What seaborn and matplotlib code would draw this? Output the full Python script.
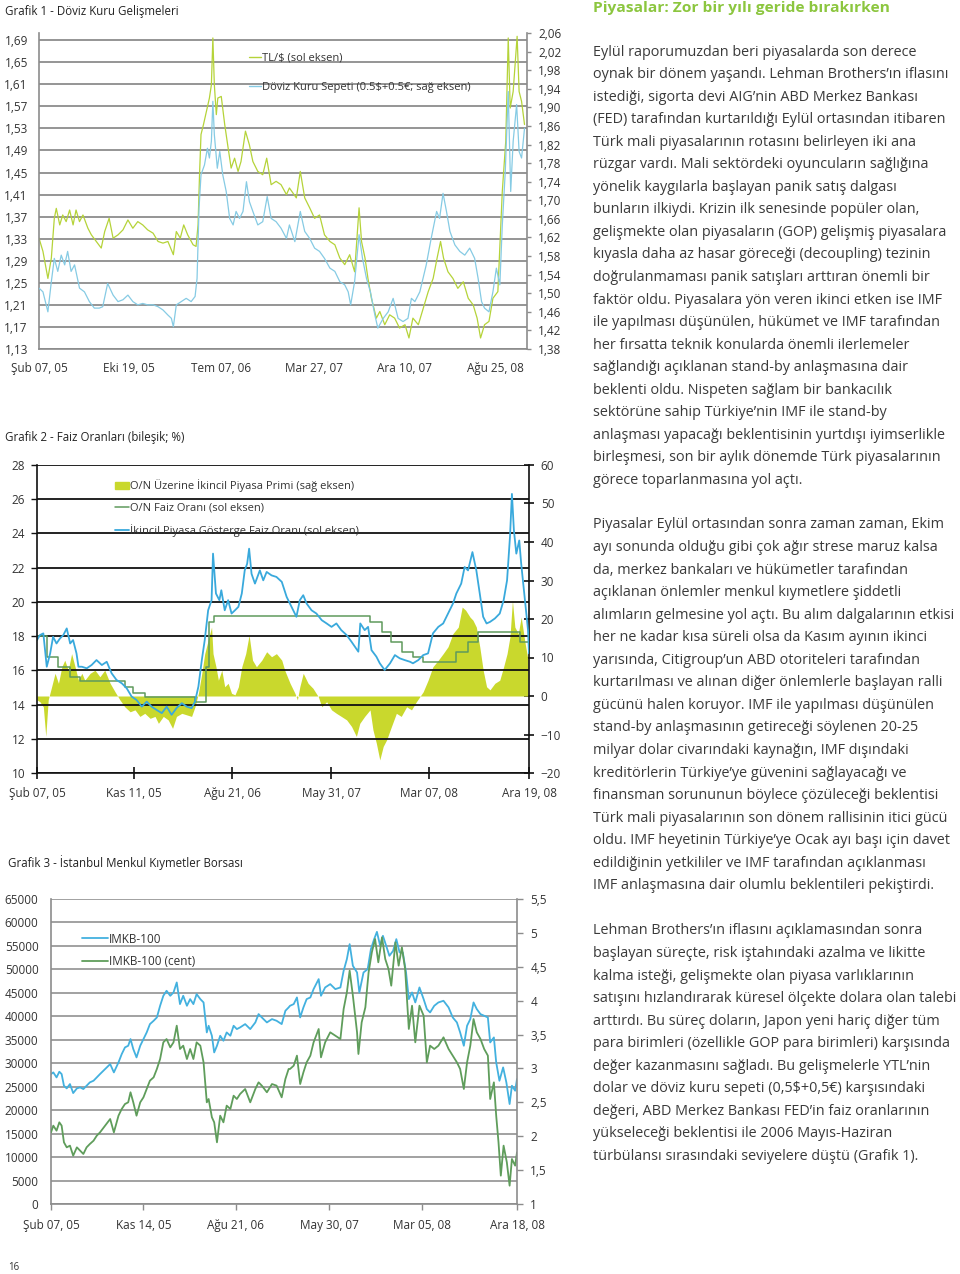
import numpy as np
import pandas as pd
import matplotlib
matplotlib.use("Agg")
import matplotlib.pyplot as plt
import seaborn as sns
from matplotlib.lines import Line2D
from matplotlib.patches import Patch

START = "2005-02-07"

# ---------------- Grafik 1 - Döviz kuru (x: işgünü, Şub 07, 05 = 0) ----------------
tl_days = [0, 8, 18, 25, 31, 35, 42, 48, 55, 62, 69, 75, 82, 89, 99, 106, 116, 126, 133, 142,
           150, 160, 170, 180, 190, 200, 210, 220, 231, 241, 251, 261, 272, 278, 286, 293, 301, 312, 318, 322,
           325, 328, 333, 339, 345, 349, 352, 355, 359, 362, 369, 376, 382, 389, 396, 403, 409, 418, 426, 433,
           443, 453, 461, 470, 480, 490, 501, 507, 521, 529, 538, 548, 558, 568, 578, 589, 599, 609, 619, 629,
           639, 648, 653, 660, 666, 673, 683, 690, 700, 710, 720, 730, 741, 749, 757, 768, 778, 788, 798, 806,
           813, 819, 828, 838, 848, 859, 869, 879, 887, 894, 902, 911, 919, 929, 938, 945, 950, 954, 960, 968,
           972, 977, 983]
tl_values = [1.331, 1.307, 1.258, 1.295, 1.367, 1.385, 1.355, 1.373, 1.361, 1.382, 1.355, 1.382, 1.361, 1.373,
             1.349, 1.337, 1.325, 1.313, 1.343, 1.367, 1.331, 1.337, 1.346, 1.364, 1.349, 1.361, 1.355, 1.346,
             1.340, 1.325, 1.322, 1.325, 1.301, 1.343, 1.331, 1.355, 1.337, 1.319, 1.316, 1.355, 1.446, 1.519,
             1.537, 1.561, 1.585, 1.609, 1.694, 1.609, 1.555, 1.585, 1.588, 1.537, 1.500, 1.458, 1.476, 1.452,
             1.470, 1.525, 1.500, 1.470, 1.452, 1.446, 1.476, 1.428, 1.434, 1.428, 1.410, 1.422, 1.404, 1.452,
             1.404, 1.386, 1.367, 1.373, 1.337, 1.325, 1.319, 1.295, 1.283, 1.301, 1.270, 1.386, 1.325, 1.295,
             1.258, 1.222, 1.186, 1.198, 1.174, 1.192, 1.186, 1.168, 1.174, 1.150, 1.186, 1.174, 1.204, 1.234,
             1.258, 1.295, 1.325, 1.295, 1.270, 1.258, 1.240, 1.252, 1.222, 1.210, 1.186, 1.150, 1.174, 1.180,
             1.222, 1.234, 1.416, 1.507, 1.694, 1.567, 1.597, 1.697, 1.597, 1.579, 1.537]

sepet_days = [0, 8, 18, 25, 31, 38, 45, 52, 58, 65, 72, 82, 92, 102, 112, 122, 129, 139, 150, 160,
              170, 180, 190, 200, 210, 220, 231, 241, 251, 261, 268, 272, 278, 288, 298, 308, 316, 320, 324, 328,
              335, 341, 345, 349, 352, 355, 361, 366, 372, 379, 386, 393, 399, 406, 413, 420, 426, 433, 443, 453,
              462, 470, 480, 490, 501, 507, 518, 529, 538, 548, 558, 568, 578, 589, 599, 609, 619, 626, 631, 639,
              648, 655, 663, 671, 680, 686, 697, 707, 717, 727, 737, 747, 754, 761, 771, 784, 794, 805, 811, 818,
              825, 832, 842, 852, 862, 872, 882, 889, 896, 902, 911, 919, 926, 933, 938, 944, 950, 955, 960, 967,
              972, 977, 983]
sepet_values = [1.511, 1.503, 1.460, 1.525, 1.575, 1.547, 1.582, 1.561, 1.590, 1.547, 1.561, 1.511, 1.503,
                1.482, 1.468, 1.468, 1.471, 1.521, 1.496, 1.482, 1.486, 1.496, 1.482, 1.475, 1.478, 1.475,
                1.475, 1.471, 1.464, 1.453, 1.446, 1.428, 1.475, 1.482, 1.489, 1.482, 1.493, 1.532, 1.683,
                1.755, 1.776, 1.812, 1.791, 1.827, 1.913, 1.841, 1.769, 1.805, 1.755, 1.719, 1.661, 1.647,
                1.676, 1.661, 1.676, 1.740, 1.697, 1.676, 1.647, 1.654, 1.708, 1.661, 1.654, 1.640, 1.618,
                1.647, 1.611, 1.676, 1.633, 1.618, 1.597, 1.590, 1.575, 1.554, 1.547, 1.525, 1.518, 1.503,
                1.475, 1.525, 1.626, 1.575, 1.532, 1.503, 1.453, 1.425, 1.446, 1.460, 1.489, 1.446, 1.439,
                1.446, 1.489, 1.482, 1.503, 1.561, 1.618, 1.676, 1.661, 1.715, 1.676, 1.633, 1.604, 1.590,
                1.582, 1.597, 1.575, 1.532, 1.482, 1.468, 1.460, 1.503, 1.554, 1.518, 1.647, 1.762, 1.934,
                1.719, 1.827, 1.906, 1.805, 1.791, 1.855]

g1_tick_dates = ["2005-02-07", "2005-10-19", "2006-07-07", "2007-03-27", "2007-12-10", "2008-08-25"]
g1_tick_labels = ["Şub 07, 05", "Eki 19, 05", "Tem 07, 06", "Mar 27, 07", "Ara 10, 07", "Ağu 25, 08"]

# ---------------- Grafik 2 - Faiz oranları ----------------
ikincil_days = [0, 6, 13, 20, 27, 33, 40, 47, 54, 61, 68, 74, 81, 85, 92, 102, 112, 122, 133, 143,
                153, 163, 174, 184, 194, 204, 215, 225, 235, 245, 256, 266, 276, 286, 297, 307, 317, 324, 331, 338,
                344, 351, 358, 361, 367, 374, 378, 385, 392, 399, 406, 413, 420, 426, 431, 435, 440, 447, 457, 464,
                471, 481, 491, 502,
                512, 522, 532, 539, 546, 553, 563, 573, 584, 594, 604, 614, 624, 635, 645, 652, 659, 663, 672, 679,
                686, 696, 703, 713, 724, 734, 744, 754, 765, 771, 782, 792, 802, 812, 823, 833, 843, 853, 860, 870,
                877, 884, 893, 901, 908, 915, 922, 929, 939, 949, 957, 964, 970, 974, 978, 983, 989, 993, 1000, 1007,
                1009]
ikincil_values = [17.77, 18.06, 18.16, 16.21, 16.99, 17.96, 17.57, 17.86, 18.06, 18.45, 17.57, 17.77, 16.99,
                  16.21, 16.21, 16.12, 16.31, 16.60, 16.31, 16.50, 15.83, 15.44, 15.24, 14.95, 14.47, 14.27,
                  13.88, 14.17, 13.88, 13.69, 13.50, 13.88, 13.40, 13.79, 14.08, 13.88, 13.79, 14.17, 15.05,
                  16.60, 17.77, 19.51, 20.10, 22.82, 20.49, 20.10, 20.68, 19.51, 20.10, 19.32, 19.51, 19.71,
                  20.49, 21.84, 22.23, 23.11, 21.64, 21.07, 21.84, 21.26, 21.75, 21.55, 21.46, 21.17,
                  20.29, 19.71, 19.13, 20.10, 20.39, 19.90, 19.51, 19.32, 18.93, 18.74, 18.54, 18.74, 18.35,
                  18.06, 17.67, 17.38, 17.09, 18.74, 18.35, 18.54, 17.18, 16.80, 16.41, 16.02, 16.41, 16.89,
                  16.70, 16.60, 16.50, 16.41, 16.60, 16.89, 16.99, 18.16, 18.54, 18.74, 19.32, 19.90, 20.49,
                  21.07, 22.04, 21.84, 22.91, 21.84, 20.49, 19.13, 18.74, 18.83, 19.03, 19.32, 20.10, 21.26,
                  23.81, 26.31, 24.19, 22.82, 23.59, 22.23, 20.29, 18.35, 16.99]

on_days = [0, 20, 44, 68, 88, 180, 197, 221, 324, 347, 352, 362, 683, 707, 727, 748, 771, 792, 860, 884,
           905, 990, 1009]
on_values = [18.0, 16.8, 16.2, 15.6, 15.35, 15.0, 14.7, 14.45, 14.15, 16.2, 18.8, 19.15, 18.83, 18.25, 17.67,
             17.09, 16.8, 16.5, 17.09, 17.67, 18.25, 17.67, 17.67]

primi_days = [0, 6, 13, 18, 23, 30, 37, 44, 51, 57, 64, 71, 78, 85, 92, 98, 109, 119, 129, 139,
              150, 160, 170, 180, 191, 201, 211, 221, 232, 242, 249, 259, 269, 278, 286, 297, 307, 317, 324, 331,
              338, 344, 351, 358, 361, 367, 372, 379, 385, 392, 399, 406, 413, 420, 428, 435, 442, 450, 461, 471,
              481, 491, 502,
              508, 519, 529, 534, 539, 546, 556, 566, 577, 584, 594, 604, 614, 624, 635, 645, 655, 662, 672, 683,
              689, 696, 703, 710, 717, 727, 737, 747, 758, 768, 778, 785, 792, 802, 812, 823, 833, 843, 853, 864,
              872, 879, 888, 894, 901, 908, 915, 922, 929, 939, 949, 957, 964, 970, 975, 980, 987, 993, 1000, 1007]
primi_values = [-1.0, -1.5, -2.8, -10.5, -1.0, 2.4, 5.9, 3.3, 7.6, 9.3, 6.7, 11.0, 7.6, 4.1, 5.9, 4.1, 5.9,
                6.7, 5.0, 6.7, 3.3, 1.1, -1.0, -2.8, -4.1, -3.6, -5.3, -4.5, -5.8, -5.3, -7.1, -5.3, -6.2,
                -8.4, -5.3, -4.5, -4.9, -5.3, -2.8, 0.7, 5.9, 11.0, 14.5, 17.9, 11.0, 7.6, 4.1, 6.7, 2.4, 3.3,
                0.7, 0.3, 2.4, 7.6, 11.0, 15.8, 9.3, 7.6, 9.3, 11.5, 10.2, 11.0, 9.3,
                6.7, 3.3, 0.7, -1.0, 2.4, 5.9, 3.3, 2.0, -0.2, -2.8, -1.5, -3.6, -4.5, -5.3, -6.2, -7.9,
                -10.5, -7.1, -5.3, -3.6, -8.8, -12.3, -16.6, -13.1, -11.4, -7.9, -4.5, -5.3, -2.8, -3.6, -1.5,
                -0.2, 1.1, 4.1, 7.6, 9.3, 11.0, 12.8, 16.2, 17.9, 23.1, 22.3, 20.5, 19.7, 17.9, 12.8, 6.7,
                2.4, 1.6, 3.3, 4.1, 7.6, 11.0, 15.4, 24.8, 17.9, 16.2, 20.5, 14.5, 9.3]

g2_tick_dates = ["2005-02-07", "2005-11-11", "2006-08-21", "2007-05-31", "2008-03-07", "2008-12-19"]
g2_tick_labels = ["Şub 07, 05", "Kas 11, 05", "Ağu 21, 06", "May 31, 07", "Mar 07, 08", "Ara 19, 08"]

# ---------------- Grafik 3 - IMKB ----------------
imkb_days = [0, 5, 12, 18, 23, 28, 34, 41, 48, 56, 63, 70, 77, 84, 92, 99, 106, 117, 128, 136,
             146, 153, 160, 167, 172, 178, 185, 193, 200, 207, 214, 222, 229, 236, 243, 250, 258, 265, 272, 279,
             286, 294, 301, 308, 315, 323, 330, 337, 341, 348, 353, 359, 366, 373, 380, 388, 395, 402, 409, 420,
             431, 442, 449, 456, 467, 478, 488, 499, 507, 514,
             517, 525, 532, 539, 546, 553, 561, 568, 579, 584, 593, 604, 615, 626, 633, 640, 646, 653, 662, 667,
             676, 685, 692, 699, 705, 712, 718, 725, 732, 740, 747, 754, 761, 768, 774, 781, 788, 797, 806, 813,
             820, 829, 838, 849, 860, 869, 878, 885, 893, 900, 907, 914, 921, 929, 937, 945, 950, 958, 963, 970,
             978, 985, 992, 997, 1004, 1008]
imkb_values = [27690, 28045, 26980, 28190, 27690, 25205, 24640, 25560, 23640, 24640, 24850, 24500, 25205,
               25915, 26270, 26980, 27690, 28755, 29820, 28045, 30175, 31950, 33370, 33725, 35145, 33015,
               31240, 33725, 35145, 36565, 38340, 39050, 39760, 42245, 44375, 45440, 44375, 45085, 47215,
               42600, 44375, 42245, 43665, 42600, 44730, 43665, 42955, 36565, 37985, 35855, 32305, 33725,
               35855, 34790, 36565, 35855, 37985, 37275, 37630, 38340, 37275, 38695, 40470, 39760, 38695,
               39405, 39050, 38340, 41180, 41890,
               42245, 42600, 44020, 39760, 41890, 43665, 44020, 45795, 47925, 44375, 46150, 46860, 45795,
               46150, 49700, 52185, 55380, 50765, 49345, 45085, 49345, 50055, 54315, 56445, 58000, 55025,
               57155, 55025, 52895, 53960, 56445, 53605, 53605, 49345, 43665, 45085, 42955, 46150, 43665,
               41535, 40825, 42245, 42955, 43310, 41890, 39760, 38695, 36565, 33725, 37985, 39405, 42955,
               41535, 40470, 40115, 39760, 34435, 35500, 30175, 26270, 29110, 25915, 21300, 25205, 24140,
               26625]

cent_days = [0, 5, 12, 18, 23, 28, 34, 41, 48, 56, 63, 70, 77, 84, 92, 99, 106, 117, 128, 136,
             146, 153, 160, 167, 172, 178, 185, 193, 200, 207, 214, 222, 229, 236, 243, 250, 258, 265, 272, 279,
             286, 294, 301, 308, 315, 323, 330, 337, 341, 348, 353, 359, 366, 373, 380, 388, 395, 402, 409, 420,
             431, 442, 449, 456, 467, 478, 488, 499, 507, 514,
             517, 525, 532, 539, 546, 553, 561, 568, 579, 584, 593, 604, 615, 626, 633, 640, 646, 653, 662, 665,
             672, 680, 687, 694, 701, 708, 716, 723, 730, 736, 745, 752, 759, 766, 774, 781, 788, 797, 806, 813,
             820, 829, 838, 849, 860, 869, 878, 885, 893, 900, 907, 914, 921, 929, 937, 945, 950, 958, 963, 968,
             973, 979, 986, 992, 997, 1004, 1008]
cent_values = [2.057, 2.156, 2.082, 2.205, 2.156, 1.910, 1.836, 1.861, 1.713, 1.836, 1.787, 1.738, 1.836,
               1.885, 1.934, 2.008, 2.057, 2.156, 2.254, 2.057, 2.303, 2.402, 2.475, 2.500, 2.648, 2.500,
               2.303, 2.500, 2.574, 2.697, 2.820, 2.869, 2.992, 3.139, 3.385, 3.434, 3.311, 3.385, 3.631,
               3.287, 3.336, 3.139, 3.287, 3.139, 3.385, 3.336, 3.090, 2.500, 2.549, 2.280, 2.205, 1.910,
               2.303, 2.205, 2.451, 2.402, 2.598, 2.549, 2.623, 2.697, 2.500, 2.697, 2.795, 2.746, 2.648,
               2.770, 2.746, 2.574, 2.844, 2.992,
               2.992, 3.041, 3.189, 2.770, 2.943, 3.090, 3.189, 3.385, 3.582, 3.164, 3.385, 3.533, 3.484,
               3.434, 3.877, 4.123, 4.443, 4.074, 3.533, 3.213, 3.680, 3.902, 4.418, 4.713, 4.910, 4.566,
               4.934, 4.615, 4.467, 4.221, 4.861, 4.516, 4.787, 4.467, 3.582, 3.926, 3.385, 3.926, 3.779,
               3.090, 3.336, 3.287, 3.336, 3.459, 3.287, 3.189, 3.090, 2.992, 2.697, 3.090, 3.336, 3.729,
               3.533, 3.434, 3.287, 3.189, 2.549, 2.795, 2.303, 1.910, 1.418, 1.861, 1.615, 1.270, 1.664,
               1.566, 1.762]

g3_tick_dates = ["2005-02-07", "2005-11-14", "2006-08-21", "2007-05-30", "2008-03-05", "2008-12-18"]
g3_tick_labels = ["Şub 07, 05", "Kas 14, 05", "Ağu 21, 06", "May 30, 07", "Mar 05, 08", "Ara 18, 08"]

# ---------------- Metin ----------------
baslik = "Piyasalar: Zor bir yılı geride bırakırken"
paragraf_1 = [
    "Eylül raporumuzdan beri piyasalarda son derece",
    "oynak bir dönem yaşandı. Lehman Brothers’ın iflasını",
    "istediği, sigorta devi AIG’nin ABD Merkez Bankası",
    "(FED) tarafından kurtarıldığı Eylül ortasından itibaren",
    "Türk mali piyasalarının rotasını belirleyen iki ana",
    "rüzgar vardı. Mali sektördeki oyuncuların sağlığına",
    "yönelik kaygılarla başlayan panik satış dalgası",
    "bunların ilkiydi. Krizin ilk senesinde popüler olan,",
    "gelişmekte olan piyasaların (GOP) gelişmiş piyasalara",
    "kıyasla daha az hasar göreceği (decoupling) tezinin",
    "doğrulanmaması panik satışları arttıran önemli bir",
    "faktör oldu. Piyasalara yön veren ikinci etken ise IMF",
    "ile yapılması düşünülen, hükümet ve IMF tarafından",
    "her fırsatta teknik konularda önemli ilerlemeler",
    "sağlandığı açıklanan stand-by anlaşmasına dair",
    "beklenti oldu. Nispeten sağlam bir bankacılık",
    "sektörüne sahip Türkiye’nin IMF ile stand-by",
    "anlaşması yapacağı beklentisinin yurtdışı iyimserlikle",
    "birleşmesi, son bir aylık dönemde Türk piyasalarının",
    "görece toparlanmasına yol açtı.",
]
paragraf_2 = [
    "Piyasalar Eylül ortasından sonra zaman zaman, Ekim",
    "ayı sonunda olduğu gibi çok ağır strese maruz kalsa",
    "da, merkez bankaları ve hükümetler tarafından",
    "açıklanan önlemler menkul kıymetlere şiddetli",
    "alımların gelmesine yol açtı. Bu alım dalgalarının etkisi",
    "her ne kadar kısa süreli olsa da Kasım ayının ikinci",
    "yarısında, Citigroup’un ABD otoriteleri tarafından",
    "kurtarılması ve alınan diğer önlemlerle başlayan ralli",
    "gücünü halen koruyor. IMF ile yapılması düşünülen",
    "stand-by anlaşmasının getireceği söylenen 20-25",
    "milyar dolar civarındaki kaynağın, IMF dışındaki",
    "kreditörlerin Türkiye’ye güvenini sağlayacağı ve",
    "finansman sorununun böylece çözüleceği beklentisi",
    "Türk mali piyasalarının son dönem rallisinin itici gücü",
    "oldu. IMF heyetinin Türkiye’ye Ocak ayı başı için davet",
    "edildiğinin yetkililer ve IMF tarafından açıklanması",
    "IMF anlaşmasına dair olumlu beklentileri pekiştirdi.",
]
paragraf_3 = [
    "Lehman Brothers’ın iflasını açıklamasından sonra",
    "başlayan süreçte, risk iştahındaki azalma ve likitte",
    "kalma isteği, gelişmekte olan piyasa varlıklarının",
    "satışını hızlandırarak küresel ölçekte dolara olan talebi",
    "arttırdı. Bu süreç doların, Japon yeni hariç diğer tüm",
    "para birimleri (özellikle GOP para birimleri) karşısında",
    "değer kazanmasını sağladı. Bu gelişmelerle YTL’nin",
    "dolar ve döviz kuru sepeti (0,5$+0,5€) karşısındaki",
    "değeri, ABD Merkez Bankası FED’in faiz oranlarının",
    "yükseleceği beklentisi ile 2006 Mayıs-Haziran",
    "türbülansı sırasındaki seviyelere düştü (Grafik 1).",
]

W, H = 960, 1274
TEXT = "#333333"


def box(left, top, right, bottom):
    """pixel box -> figure fraction rect"""
    return [left / W, 1 - bottom / H, (right - left) / W, (bottom - top) / H]


def fy(y):
    return 1 - y / H


def busdays(dates):
    return [int(np.busday_count(START, d)) for d in dates]


def comma(v, nd):
    return f"{v:.{nd}f}".replace(".", ",")


def style_pair(ax, axr, line_color, grid_color):
    ax.grid(True, axis="y", color=grid_color, lw=1.3)
    ax.grid(False, axis="x")
    ax.set_axisbelow(True)
    for a in (ax, axr):
        a.set(xlabel="", ylabel="")
        for s in a.spines.values():
            s.set_visible(False)
    ax.spines["left"].set_visible(True)
    ax.spines["bottom"].set_visible(True)
    axr.spines["right"].set_visible(True)
    for s in (ax.spines["left"], ax.spines["bottom"], axr.spines["right"]):
        s.set_color(line_color)
        s.set_linewidth(1.2)
    ax.tick_params(axis="both", labelsize=8.5, labelcolor=TEXT, colors=line_color)
    axr.tick_params(axis="y", labelsize=8.5, labelcolor=TEXT, colors=line_color)


sns.set_theme(style="white")
plt.rcParams["font.family"] = ["Open Sans", "DejaVu Sans"]

fig = plt.figure(figsize=(W / 100, H / 100), dpi=100)

# ======================= Grafik 1 =======================
ax1 = fig.add_axes(box(39, 33, 527, 349))
ax1r = ax1.twinx()
df_tl = pd.DataFrame({"gun": tl_days, "kur": tl_values})
df_sepet = pd.DataFrame({"gun": sepet_days, "sepet": sepet_values})
c_tl, c_sepet = "#b5d339", "#86cbe4"
sns.lineplot(data=df_tl, x="gun", y="kur", ax=ax1, color=c_tl, lw=0.9, estimator=None)
sns.lineplot(data=df_sepet, x="gun", y="sepet", ax=ax1r, color=c_sepet, lw=0.9, estimator=None)
ax1.set_xlim(0, 988)
ax1.set_ylim(1.13, 1.703)
ax1r.set_ylim(1.38, 2.06)
l_ticks = np.round(np.arange(1.13, 1.70, 0.04), 2)
r_ticks = np.round(np.arange(1.38, 2.07, 0.04), 2)
ax1.set_yticks(l_ticks, [comma(v, 2) for v in l_ticks])
ax1r.set_yticks(r_ticks, [comma(v, 2) for v in r_ticks])
ax1.set_xticks(busdays(g1_tick_dates), g1_tick_labels)
style_pair(ax1, ax1r, "#8c8c8c", "#8c8c8c")
ax1.tick_params(axis="x", length=0, pad=9)
ax1.tick_params(axis="y", length=0, pad=8)
ax1r.tick_params(axis="y", right=True, length=3, width=1, direction="out", pad=5)
ax1r.legend(handles=[Line2D([], [], color=c_tl, lw=1), Line2D([], [], color=c_sepet, lw=1)],
            labels=["TL/$ (sol eksen)", "Döviz Kuru Sepeti (0.5$+0.5€; sağ eksen)"],
            loc="upper left", bbox_to_anchor=(0.430, 0.937), frameon=False, fontsize=8,
            handlelength=1.1, handletextpad=0.1, labelspacing=1.65, borderpad=0, borderaxespad=0,
            labelcolor=TEXT)

# ======================= Grafik 2 =======================
ax2 = fig.add_axes(box(37, 465, 529, 773))
ax2r = ax2.twinx()
ax2.set_zorder(ax2r.get_zorder() + 1)
ax2.patch.set_visible(False)
c_fill, c_on, c_ik = "#c9d82d", "#5f9a5c", "#39a9dc"
ax2r.fill_between(primi_days, 0, primi_values, color=c_fill, lw=0)
df_on = pd.DataFrame({"gun": on_days, "faiz": on_values})
df_ik = pd.DataFrame({"gun": ikincil_days, "faiz": ikincil_values})
sns.lineplot(data=df_on, x="gun", y="faiz", ax=ax2, color=c_on, lw=1.1, estimator=None,
             drawstyle="steps-post")
sns.lineplot(data=df_ik, x="gun", y="faiz", ax=ax2, color=c_ik, lw=1.3, estimator=None)
ax2.set_xlim(0, 1009)
ax2.set_ylim(10, 28)
ax2r.set_ylim(-20, 60)
ax2.set_yticks(range(10, 29, 2))
ax2r.set_yticks(range(-20, 61, 10))
ax2.set_xticks(busdays(g2_tick_dates), g2_tick_labels)
style_pair(ax2, ax2r, "#111111", "#111111")
ax2.tick_params(axis="x", bottom=True, length=8, width=1.2, direction="inout", pad=6)
ax2.tick_params(axis="y", left=True, length=4, width=1, direction="out", pad=4.5)
ax2r.tick_params(axis="y", right=True, length=7, width=1.2, direction="inout", pad=5)
ax2.legend(handles=[Patch(color=c_fill), Line2D([], [], color=c_on, lw=1.1), Line2D([], [], color=c_ik, lw=1.3)],
           labels=["O/N Üzerine İkincil Piyasa Primi (sağ eksen)", "O/N Faiz Oranı (sol eksen)",
                   "İkincil Piyasa Gösterge Faiz Oranı (sol eksen)"],
           loc="upper left", bbox_to_anchor=(0.158, 0.953), frameon=False, fontsize=8,
           handlelength=1.3, handleheight=0.7, handletextpad=0.1, labelspacing=0.92, borderpad=0,
           borderaxespad=0, labelcolor=TEXT)

# ======================= Grafik 3 =======================
ax3 = fig.add_axes(box(51, 899, 517, 1204))
ax3r = ax3.twinx()
c_imkb, c_cent = "#43b1df", "#5f9d5b"
df_imkb = pd.DataFrame({"gun": imkb_days, "endeks": imkb_values})
df_cent = pd.DataFrame({"gun": cent_days, "cent": cent_values})
sns.lineplot(data=df_imkb, x="gun", y="endeks", ax=ax3, color=c_imkb, lw=1.3, estimator=None)
sns.lineplot(data=df_cent, x="gun", y="cent", ax=ax3r, color=c_cent, lw=1.3, estimator=None)
ax3.set_xlim(0, 1008)
ax3.set_ylim(0, 65000)
ax3r.set_ylim(1, 5.5)
ax3.set_yticks(range(0, 65001, 5000))
r3 = np.arange(1, 5.51, 0.5)
ax3r.set_yticks(r3, [comma(v, 0) if v == int(v) else comma(v, 1) for v in r3])
ax3.set_xticks(busdays(g3_tick_dates), g3_tick_labels)
style_pair(ax3, ax3r, "#8c8c8c", "#9a9a9a")
ax3.tick_params(axis="x", bottom=True, length=4, width=1, direction="out", pad=7)
ax3.tick_params(axis="y", length=0, pad=9)
ax3r.tick_params(axis="y", right=True, length=4, width=1, direction="out", pad=5.5)
ax3r.legend(handles=[Line2D([], [], color=c_imkb, lw=1.3), Line2D([], [], color=c_cent, lw=1.3)],
            labels=["IMKB-100", "IMKB-100 (cent)"],
            loc="upper left", bbox_to_anchor=(0.066, 0.890), frameon=False, fontsize=8.5,
            handlelength=2.2, handletextpad=0.1, labelspacing=0.82, borderpad=0, borderaxespad=0,
            labelcolor=TEXT)

# ======================= Başlıklar ve metin =======================
fig.text(5 / W, fy(12), "Grafik 1 - Döviz Kuru Gelişmeleri", fontsize=8.3, va="center", color="#222222")
fig.text(5 / W, fy(437), "Grafik 2 - Faiz Oranları (bileşik; %)", fontsize=8.3, va="center", color="#222222")
fig.text(8 / W, fy(863), "Grafik 3 - İstanbul Menkul Kıymetler Borsası", fontsize=8.3, va="center",
         color="#222222")
fig.text(8 / W, fy(1267), "16", fontsize=7, va="center", color="#333333")

fig.text(593 / W, fy(8), baslik, fontsize=11.15, fontweight="bold", va="center", color="#8cc63f")
satir = 22.55
for ilk_y, paragraf in [(52, paragraf_1), (525, paragraf_2), (931, paragraf_3)]:
    for i, metin in enumerate(paragraf):
        fig.text(593 / W, fy(ilk_y + i * satir), metin, fontsize=10.4, va="center", color="#3a3a3a")

fig.savefig("out.png", dpi=100)
